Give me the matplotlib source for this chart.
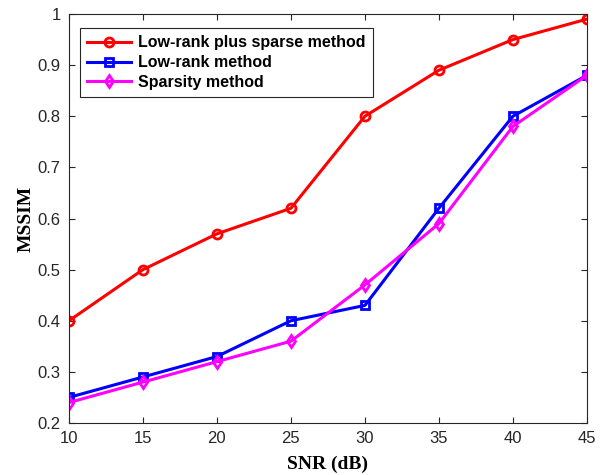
import numpy as np
import matplotlib
matplotlib.use('Agg')
import matplotlib.pyplot as plt

snr = [10, 15, 20, 25, 30, 35, 40, 45]
lowrank_sparse = [0.40, 0.50, 0.57, 0.62, 0.80, 0.89, 0.95, 0.99]
lowrank = [0.25, 0.29, 0.33, 0.40, 0.43, 0.62, 0.80, 0.88]
sparsity = [0.24, 0.28, 0.32, 0.36, 0.47, 0.59, 0.78, 0.88]

plt.rcParams['font.family'] = 'Liberation Sans'

fig = plt.figure(figsize=(6.05, 4.75), dpi=100)
ax = fig.add_axes([0.114, 0.1095, 0.856, 0.861])

ax.plot(snr, lowrank_sparse, color='#ff0000', lw=2.2, marker='o', ms=6.5, mfc='none', mew=2,
        label='Low-rank plus sparse method')
ax.plot(snr, lowrank, color='#0000ff', lw=2.2, marker='s', ms=5.5, mfc='none', mew=2,
        label='Low-rank method')
ax.plot(snr, sparsity, color='#ff00ff', lw=2.2, marker='d', ms=6.5, mfc='none', mew=2,
        label='Sparsity method')

ax.set_xlim(10, 45)
ax.set_ylim(0.2, 1.0)
ax.set_xticks(range(10, 46, 5))
ax.set_yticks(np.arange(0.2, 1.01, 0.1))
ax.set_yticklabels(['0.2', '0.3', '0.4', '0.5', '0.6', '0.7', '0.8', '0.9', '1'])
ax.tick_params(direction='in', labelsize=12, colors='#262626', top=True, right=True, length=4, pad=6)
for s in ax.spines.values():
    s.set_color('#262626')
    s.set_linewidth(0.8)

ax.set_xlabel('SNR (dB)', family='Liberation Serif', fontweight='bold', fontsize=14, labelpad=7)
ax.set_ylabel('MSSIM', family='Liberation Serif', fontweight='bold', fontsize=14, labelpad=2)

leg = ax.legend(loc='upper left', bbox_to_anchor=(0.005, 0.985), prop={'weight': 'bold', 'size': 11.5},
                fancybox=False, edgecolor='#262626', framealpha=1, handlelength=2.8,
                borderpad=0.45, labelspacing=0.3, handletextpad=0.4)
leg.get_frame().set_linewidth(0.8)

fig.savefig('out.png', dpi=100)
